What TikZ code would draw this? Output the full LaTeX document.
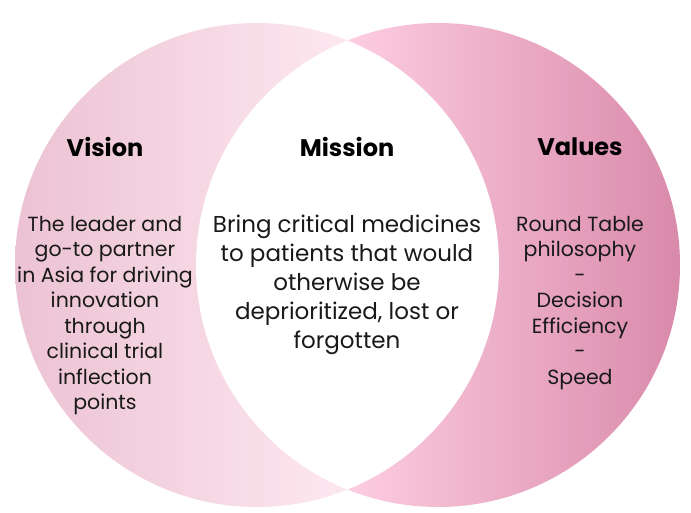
\documentclass[tikz,border=0pt]{standalone}
\usepackage{fontspec}
\setmainfont{Poppins}
\begin{document}
\begin{tikzpicture}[x=1pt,y=-1pt,
  head/.style={font=\fontsize{24}{28}\selectfont\bfseries, text=black, inner sep=0pt},
  body/.style={font=\fontsize{20.5}{25.5}\selectfont, text=black!90, align=center, inner sep=0pt},
  mbody/.style={font=\fontsize{23}{29}\selectfont, text=black!90, align=center, inner sep=0pt}]
\definecolor{lA}{HTML}{ECC2D3}
\definecolor{lB}{HTML}{FDE8F0}
\definecolor{rA}{HTML}{FDCDE1}
\definecolor{rB}{HTML}{D98AAA}
\useasboundingbox (0,0) rectangle (691,512);
\fill[white] (0,0) rectangle (691,512);
\coordinate (cl) at (257,265);
\coordinate (cr) at (438,265);
\begin{scope}
  \clip (cl) circle (242);
  \shade[left color=lA, right color=lB, shading=axis, shading angle=90] (15,20) rectangle (348,510);
\end{scope}
\begin{scope}
  \clip (cr) circle (242);
  \shade[left color=rA, right color=rB] (348,20) rectangle (680,510);
\end{scope}
\begin{scope}
  \clip (cl) circle (242);
  \fill[white] (cr) circle (242);
\end{scope}
\node[head] (vis) at (105,147) {Vision};
\node[head] (mis) at (347,147) {Mission};
\node[head] (val) at (580,147) {Values};
\node[body, anchor=north] (vist) at (105,216) {The leader and\\go-to partner\\in Asia for driving\\innovation\\through\\clinical trial\\inflection\\points};
\node[mbody, anchor=north] (mist) at (347,215) {Bring critical medicines\\to patients that would\\otherwise be\\deprioritized, lost or\\forgotten};
\node[body, anchor=north] (valt) at (580,216) {Round Table\\philosophy\\-\\Decision\\Efficiency\\-\\Speed};
\end{tikzpicture}
\end{document}
